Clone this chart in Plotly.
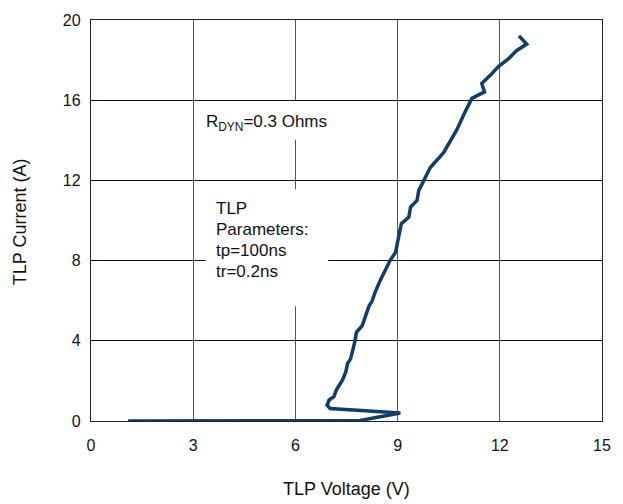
import plotly.graph_objects as go

voltage = [1.09, 7.0, 7.9, 8.45, 9.08, 7.02, 6.93, 6.99, 7.13, 7.2, 7.28, 7.38, 7.48, 7.53,
           7.62, 7.67, 7.75, 7.79, 7.96, 8.06, 8.16, 8.25, 8.35, 8.5, 8.65, 8.79, 8.94, 8.99,
           9.06, 9.11, 9.33, 9.38, 9.57, 9.62, 9.77, 9.96, 10.35, 10.55, 10.74, 10.94, 11.18,
           11.55, 11.47, 11.72, 11.96, 12.25, 12.49, 12.79, 12.56]
current = [0.0, 0.02, 0.03, 0.2, 0.4, 0.62, 0.78, 1.05, 1.21, 1.54, 1.79, 2.04, 2.45, 2.86,
           3.1, 3.43, 4.0, 4.42, 4.75, 5.24, 5.73, 5.98, 6.47, 7.05, 7.54, 8.04, 8.41, 8.94,
           9.43, 9.84, 10.17, 10.67, 11.0, 11.49, 12.0, 12.64, 13.38, 13.95, 14.53, 15.27, 16.09,
           16.42, 16.83, 17.24, 17.68, 18.06, 18.47, 18.8, 19.21]

x_ticks = [0, 3, 6, 9, 12, 15]
y_ticks = [0, 4, 8, 12, 16, 20]

x_title = "TLP Voltage (V)"
y_title = "TLP Current (A)"
rdyn_text = "R<sub>DYN</sub>=0.3 Ohms"
param_lines = ["TLP", "Parameters:", "tp=100ns", "tr=0.2ns"]

W, H = 623, 504
ml, mr, mt, mb = 91, 19, 16, 83
pw, ph = W - ml - mr, H - mt - mb

def px(xp):
    return (xp - ml) / pw

def py(yp):
    return (H - mb - yp) / ph

fig = go.Figure()
fig.add_trace(go.Scatter(
    x=voltage, y=current, mode="lines",
    line=dict(color="#0f3d6e", width=3.5),
    hoverinfo="skip", showlegend=False,
))

ann_font = dict(family="Liberation Sans, Arial", size=17, color="#111")

shapes = [
    dict(type="rect", xref="paper", yref="paper", x0=px(200), x1=px(329), y0=py(137), y1=py(98),
         fillcolor="white", line=dict(width=0), layer="above"),
    dict(type="rect", xref="paper", yref="paper", x0=px(206), x1=px(329), y0=py(305), y1=py(187),
         fillcolor="white", line=dict(width=0), layer="above"),
]

annotations = [
    dict(text=rdyn_text, xref="paper", yref="paper", x=px(204), y=py(120), xanchor="left",
         yanchor="middle", showarrow=False, font=ann_font),
]
line_y = [206, 228, 249, 270]
for t, yy in zip(param_lines, line_y):
    annotations.append(dict(text=t, xref="paper", yref="paper", x=px(214), y=py(yy), xanchor="left",
                            yanchor="middle", showarrow=False, font=ann_font))

annotations.append(dict(text=x_title, xref="paper", yref="paper", x=px(348), y=py(490),
                        xanchor="center", yanchor="middle", showarrow=False,
                        font=dict(family="Liberation Sans, Arial", size=18, color="#111")))
annotations.append(dict(text=y_title, xref="paper", yref="paper", x=px(20), y=py(220),
                        xanchor="center", yanchor="middle", showarrow=False, textangle=-90,
                        font=dict(family="Liberation Sans, Arial", size=18, color="#111")))

fig.update_layout(
    width=W, height=H,
    margin=dict(l=ml, r=mr, t=mt, b=mb, pad=0),
    paper_bgcolor="white", plot_bgcolor="white",
    font=dict(family="Liberation Sans, Arial", size=16, color="#111"),
    shapes=shapes, annotations=annotations,
    xaxis=dict(range=[0, 15], tickvals=x_ticks, ticktext=[str(v) for v in x_ticks],
               showgrid=True, gridcolor="#555", gridwidth=1.2, zeroline=False,
               showline=True, linecolor="#222", linewidth=1.2, mirror=True,
               ticks="outside", ticklen=10, tickcolor="rgba(0,0,0,0)", fixedrange=True),
    yaxis=dict(range=[0, 20], tickvals=y_ticks, ticktext=[str(v) for v in y_ticks],
               showgrid=True, gridcolor="#111", gridwidth=1.2, zeroline=False,
               showline=True, linecolor="#222", linewidth=1.2, mirror=True,
               ticks="outside", ticklen=6, tickcolor="rgba(0,0,0,0)", fixedrange=True),
)

fig.write_html(
    "out.html",
    config={"displayModeBar": False, "staticPlot": True},
    post_script="document.body.style.margin='0';document.body.style.overflow='hidden';",
)
